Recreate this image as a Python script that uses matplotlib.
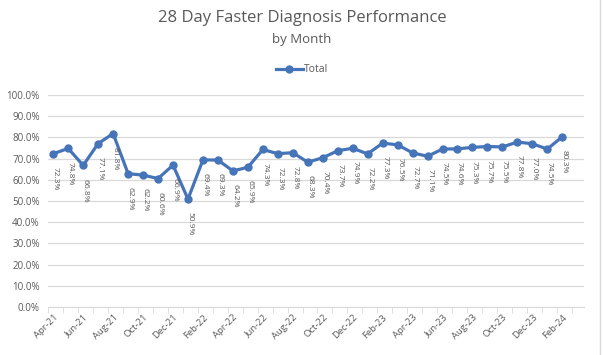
import numpy as np
import matplotlib.pyplot as plt
from matplotlib.lines import Line2D
from matplotlib.ticker import FuncFormatter

months = ['Apr-21', 'May-21', 'Jun-21', 'Jul-21', 'Aug-21', 'Sep-21', 'Oct-21', 'Nov-21',
          'Dec-21', 'Jan-22', 'Feb-22', 'Mar-22', 'Apr-22', 'May-22', 'Jun-22', 'Jul-22',
          'Aug-22', 'Sep-22', 'Oct-22', 'Nov-22', 'Dec-22', 'Jan-23', 'Feb-23', 'Mar-23',
          'Apr-23', 'May-23', 'Jun-23', 'Jul-23', 'Aug-23', 'Sep-23', 'Oct-23', 'Nov-23',
          'Dec-23', 'Jan-24', 'Feb-24']
total = [72.3, 74.8, 66.8, 77.1, 81.8, 62.9, 62.2, 60.6, 66.9, 50.9, 69.4, 69.3,
         64.2, 65.9, 74.3, 72.3, 72.8, 68.3, 70.4, 73.7, 74.9, 72.2, 77.3, 76.5,
         72.7, 71.1, 74.5, 74.6, 75.3, 75.7, 75.5, 77.8, 77.0, 74.5, 80.3]

blue = '#4674B8'
grey = '#595959'
plt.rcParams['font.family'] = ['Open Sans', 'DejaVu Sans']

fig = plt.figure(figsize=(6.04, 3.55), dpi=100)
ax = fig.add_axes([48 / 604, 48 / 355, 536 / 604, 212 / 355])

x = np.arange(len(months))
ax.plot(x, total, color=blue, lw=2.3, marker='o', ms=5, zorder=3)

for xi, v in zip(x, total):
    ax.annotate(f'{v:.1f}%', (xi, v), xytext=(1.5, -9.5), textcoords='offset points',
                rotation=-90, ha='center', va='top', fontsize=6, color=grey)

ax.set_ylim(0, 100)
ax.set_yticks(np.arange(0, 101, 10))
ax.yaxis.set_major_formatter(FuncFormatter(lambda v, p: f'{v:.1f}%'))
ax.set_xlim(-0.35, len(months) + 0.45)
ax.set_xticks(x[::2])
ax.set_xticklabels(months[::2], rotation=45, ha='right', rotation_mode='anchor',
                   fontsize=6.8, color=grey)
ax.set_xticks(np.arange(-0.35, len(months) + 0.5, 1.0), minor=True)
ax.tick_params(axis='x', which='major', length=0, pad=4)
ax.tick_params(axis='x', which='minor', length=4, color='#D9D9D9')
ax.tick_params(axis='y', length=0, labelsize=7, labelcolor=grey, pad=6)

ax.grid(axis='y', color='#D9D9D9', lw=0.9)
ax.set_axisbelow(True)
for s in ['top', 'right', 'left']:
    ax.spines[s].set_visible(False)
ax.spines['bottom'].set_color('#D9D9D9')

fig.text(0.5, 1 - 18 / 355, '28 Day Faster Diagnosis Performance', ha='center',
         va='center', fontsize=12, color=grey)
fig.text(0.5, 1 - 40 / 355, 'by Month', ha='center', va='center', fontsize=9.5,
         color=grey)

handle = Line2D([], [], color=blue, lw=2.3, marker='o', ms=5)
fig.legend([handle], ['Total'], loc='center', bbox_to_anchor=(0.5, 1 - 70 / 355),
           frameon=False, fontsize=7.5, handlelength=2.6, handletextpad=0.1,
           labelcolor=grey)

fig.add_artist(Line2D([600 / 604, 600 / 604], [0, 1], color='#D9D9D9', lw=1))

fig.savefig('out.png', dpi=100)
